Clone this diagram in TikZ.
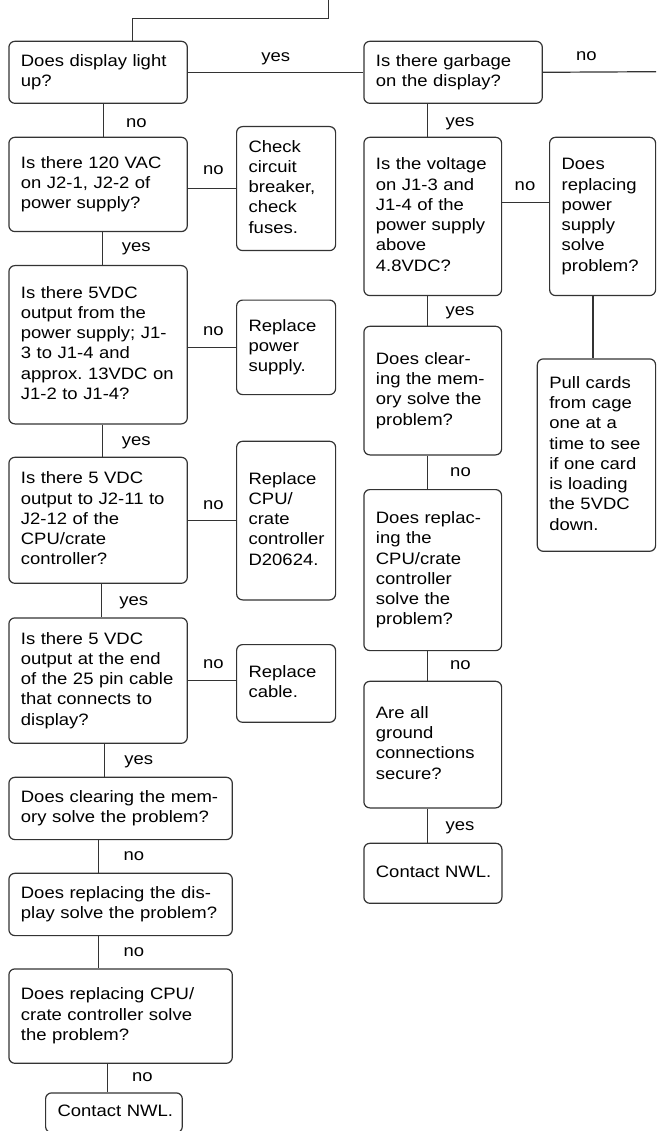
\documentclass[tikz,border=0pt]{standalone}
\usepackage{fontspec}
\setmainfont{Liberation Sans}[FakeStretch=1.12]
\newcommand\boxlines[1]{\noindent\begin{tabular}{@{}l@{}}#1\end{tabular}}
% \flowbox{name}{x1}{y1}{x2}{y2}{lines}: rounded box spanning the given corners
\newcommand\flowbox[6]{%
  \pgfmathsetmacro\flowH{#5-#3}%
  \pgfmathsetmacro\flowT{#4-#2-24}%
  \node[box, anchor=north west, text width=\flowT pt, minimum height=\flowH pt] (#1) at (#2,#3) {\boxlines{#6}};}
\begin{document}
\begin{tikzpicture}[x=1pt,y=-1pt,
  box/.style={draw=black!80, line width=1.2pt, rounded corners=6pt,
    inner xsep=12pt, inner ysep=0pt, align=left,
    font=\fontsize{16.5}{20.3}\selectfont},
  wire/.style={draw=black!80, line width=1.2pt},
  lbl/.style={anchor=base, inner sep=0pt, font=\fontsize{16.5}{20.3}\selectfont}]
\useasboundingbox (0,0) rectangle (656,1131);
\clip (0,0) rectangle (656,1131);

% left column: power checks
\flowbox{A}{8.3}{40.7}{186.7}{102.7}{Does display light\\up?}
\flowbox{C}{8.3}{136.7}{186.7}{231}{Is there 120 VAC\\on J2-1, J2-2 of\\power supply?}
\flowbox{D}{236}{126}{335}{250}{Check\\circuit\\breaker,\\check\\fuses.}
\flowbox{E}{8.3}{265}{186.7}{423.3}{Is there 5VDC\\output from the\\power supply; J1-\\3 to J1-4 and\\approx.\ 13VDC on\\J1-2 to J1-4?}
\flowbox{F}{236}{299.5}{335}{394}{Replace\\power\\supply.}
\flowbox{G}{8.3}{456.7}{186.7}{582.7}{Is there 5 VDC\\output to J2-11 to\\J2-12 of the\\CPU/crate\\controller?}
\flowbox{H}{236}{440.7}{335}{599.3}{Replace\\CPU/\\crate\\controller\\D20624.}
\flowbox{I}{8.3}{617.3}{186.7}{742.7}{Is there 5 VDC\\output at the end\\of the 25 pin cable\\that connects to\\display?}
\flowbox{J}{236}{644}{335}{721.7}{Replace\\cable.}
\flowbox{K}{8.3}{776.7}{231.7}{839}{Does clearing the mem-\\ory solve the problem?}
\flowbox{L}{8.3}{872.7}{231.7}{935}{Does replacing the dis-\\play solve the problem?}
\flowbox{M}{8.3}{968.3}{231.7}{1062.7}{Does replacing CPU/\\crate controller solve\\the problem?}
\flowbox{N}{45}{1092.3}{181.7}{1132}{Contact NWL.}

% right column: display garbage checks
\flowbox{B}{363.3}{40.7}{541.7}{102.7}{Is there garbage\\on the display?}
\flowbox{O}{363.3}{136.7}{501}{295}{Is the voltage\\on J1-3 and\\J1-4 of the\\power supply\\above\\4.8VDC?}
\flowbox{P}{549}{136.7}{655}{295}{Does\\replacing\\power\\supply\\solve\\problem?}
\flowbox{Q}{363.3}{325.7}{501}{454.3}{Does clear-\\ing the mem-\\ory solve the\\problem?}
\flowbox{R}{536.7}{358.3}{655}{550.7}{Pull cards\\from cage\\one at a\\time to see\\if one card\\is loading\\the 5VDC\\down.}
\flowbox{S}{363.3}{489}{501}{650}{Does replac-\\ing the\\CPU/crate\\controller\\solve the\\problem?}
\flowbox{T}{363.3}{680.7}{501}{807.3}{Are all\\ground\\connections\\secure?}
\flowbox{U}{363.3}{842.7}{501.3}{902.7}{Contact NWL.}

% connectors
\coordinate (entry) at (328.3,0);
\coordinate (exitR) at (656,71.7);
\draw[wire] (entry) -- ++(0,18.3) -| ([xshift=34.2pt]A.north);
\draw[wire] (A.east) -- (B.west);
\draw[wire] (B.east) -- (exitR);
\draw[wire] ([xshift=5.2pt]A.south) -- ([xshift=5.2pt]C.north);
\draw[wire] (C.east |- D.west) -- (D.west);
\draw[wire] ([xshift=4.2pt]C.south) -- ([xshift=4.2pt]E.north);
\draw[wire] (E.east |- F.west) -- (F.west);
\draw[wire] ([xshift=4.2pt]E.south) -- ([xshift=4.2pt]G.north);
\draw[wire] (G.east) -- (G.east -| H.west);
\draw[wire] ([xshift=3.5pt]G.south) -- ([xshift=3.5pt]I.north);
\draw[wire] (I.east) -- (I.east -| J.west);
\draw[wire] ([xshift=6.5pt]I.south) -- ([xshift=6.5pt]I.south |- K.north);
\draw[wire] ([xshift=-22.3pt]K.south) -- ([xshift=-22.3pt]L.north);
\draw[wire] ([xshift=-22.3pt]L.south) -- ([xshift=-22.3pt]M.north);
\draw[wire] ([xshift=-13.3pt]M.south) -- ([xshift=-13.3pt]M.south |- N.north);
\draw[wire] ([xshift=-25.8pt]B.south) -- ([xshift=-25.8pt]B.south |- O.north);
\draw[wire] ([yshift=13.55pt]O.east) -- ([yshift=13.55pt]O.east -| P.west);
\draw[wire] ([xshift=-5.45pt]O.south) -- ([xshift=-5.45pt]Q.north);
\draw[wire] ([xshift=-5.45pt]Q.south) -- ([xshift=-5.45pt]S.north);
\draw[wire] ([xshift=-5.45pt]S.south) -- ([xshift=-5.45pt]T.north);
\draw[wire] ([xshift=-5.45pt]T.south) -- ([xshift=-5.45pt]T.south |- U.north);
\draw[wire] ([xshift=-9.7pt]P.south) -- ([xshift=-9.7pt]P.south |- R.north);

% branch labels
\node[lbl] (l1) at (275.8,61.7) {yes};
\node[lbl] (l2) at (136.3,127.3) {no};
\node[lbl] (l3) at (213.3,175) {no};
\node[lbl] (l4) at (136.3,251.7) {yes};
\node[lbl] (l5) at (213.3,335) {no};
\node[lbl] (l6) at (136.3,445) {yes};
\node[lbl] (l7) at (213.3,509.3) {no};
\node[lbl] (l8) at (133.7,605) {yes};
\node[lbl] (l9) at (213.3,668.3) {no};
\node[lbl] (l10) at (138.8,764) {yes};
\node[lbl] (l11) at (134,860.7) {no};
\node[lbl] (l12) at (134,956.7) {no};
\node[lbl] (l13) at (142.5,1081.7) {no};
\node[lbl] (r1) at (586.3,61) {no};
\node[lbl] (r2) at (460,126.7) {yes};
\node[lbl] (r3) at (525,190.7) {no};
\node[lbl] (r4) at (460,316) {yes};
\node[lbl] (r5) at (460.5,476.7) {no};
\node[lbl] (r6) at (460.3,669) {no};
\node[lbl] (r7) at (460,830) {yes};
\end{tikzpicture}
\end{document}
